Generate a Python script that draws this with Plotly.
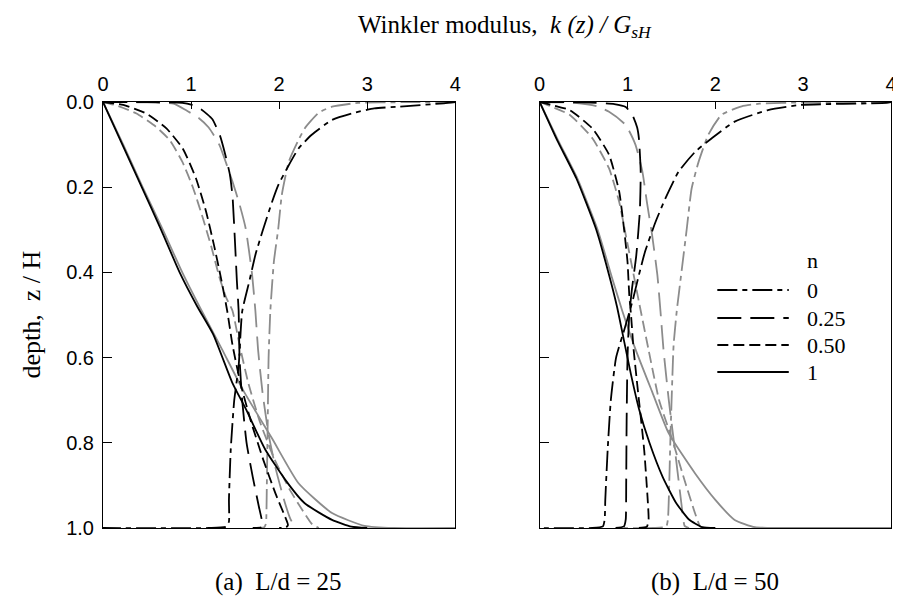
import plotly.graph_objects as go

# ---------------- data (k/GsH , z/H) ----------------
# Panel (a) L/d = 25
a_blk_n0_k = [4.0, 3.87, 3.35, 3.08, 2.82, 2.6, 2.37, 2.22, 2.11, 1.99, 1.92, 1.81, 1.73, 1.66, 1.58, 1.54, 1.49, 1.45, 1.43, 1.43, 1.40, 1.2, 0.0]
a_blk_n0_z = [0.0, 0.003, 0.011, 0.015, 0.027, 0.042, 0.077, 0.109, 0.148, 0.195, 0.234, 0.304, 0.359, 0.422, 0.492, 0.62, 0.70, 0.817, 0.934, 0.985, 0.997, 1.0, 1.0]
a_blk_n25_k = [0.0, 0.6, 0.9, 1.0, 1.12, 1.24, 1.33, 1.39, 1.44, 1.47, 1.5, 1.52, 1.54, 1.55, 1.58, 1.63, 1.7, 1.77, 1.81, 1.80, 1.70]
a_blk_n25_z = [0.0, 0.0005, 0.002, 0.006, 0.018, 0.04, 0.08, 0.125, 0.17, 0.22, 0.335, 0.42, 0.49, 0.6, 0.7, 0.8, 0.88, 0.95, 0.99, 0.998, 1.0]
a_blk_n50_k = [0.0, 0.23, 0.49, 0.72, 0.905, 1.055, 1.17, 1.26, 1.34, 1.41, 1.47, 1.56, 1.68, 1.82, 1.96, 2.06, 2.1, 2.08, 2.0]
a_blk_n50_z = [0.0, 0.007, 0.027, 0.062, 0.109, 0.179, 0.257, 0.336, 0.414, 0.49, 0.57, 0.66, 0.75, 0.84, 0.92, 0.97, 0.993, 0.998, 1.0]
a_blk_n1_k = [0.0, 0.22, 0.44, 0.66, 0.87, 1.07, 1.25, 1.47, 1.62, 1.84, 2.07, 2.29, 2.6, 2.82, 3.0]
a_blk_n1_z = [0.0, 0.1, 0.2, 0.3, 0.4, 0.48, 0.545, 0.66, 0.72, 0.815, 0.887, 0.942, 0.981, 0.997, 1.0]

a_gry_n0_k = [4.0, 3.4, 2.9, 2.6, 2.45, 2.37, 2.29, 2.22, 2.11, 2.03, 1.99, 1.94, 1.9, 1.88, 1.87, 1.86, 1.855, 1.85, 1.83, 1.75]
a_gry_n0_z = [0.0, 0.0005, 0.002, 0.011, 0.025, 0.042, 0.062, 0.089, 0.14, 0.218, 0.297, 0.375, 0.49, 0.6, 0.75, 0.9, 0.97, 0.99, 0.998, 1.0]
a_gry_n25_k = [0.0, 0.5, 0.8, 0.94, 1.09, 1.2, 1.32, 1.47, 1.55, 1.62, 1.69, 1.73, 1.76, 1.81, 1.88, 1.96, 2.05, 2.12, 2.17, 2.2]
a_gry_n25_z = [0.0, 0.001, 0.004, 0.019, 0.038, 0.06, 0.1, 0.187, 0.24, 0.297, 0.4, 0.49, 0.58, 0.68, 0.78, 0.86, 0.93, 0.975, 0.995, 1.0]
a_gry_n50_k = [0.0, 0.15, 0.38, 0.6, 0.755, 0.9, 1.02, 1.13, 1.23, 1.32, 1.4, 1.47, 1.55, 1.65, 1.78, 1.95, 2.12, 2.27, 2.37, 2.45]
a_gry_n50_z = [0.0, 0.008, 0.027, 0.058, 0.089, 0.14, 0.2, 0.27, 0.34, 0.41, 0.46, 0.49, 0.57, 0.66, 0.75, 0.84, 0.91, 0.96, 0.99, 1.0]
a_gry_n1_k = [0.0, 0.23, 0.45, 0.68, 0.9, 1.12, 1.35, 1.6, 1.92, 2.22, 2.6, 2.97, 3.3, 4.0]
a_gry_n1_z = [0.0, 0.1, 0.2, 0.3, 0.4, 0.49, 0.58, 0.68, 0.79, 0.895, 0.965, 0.995, 1.0, 1.0]

# Panel (b) L/d = 50
b_blk_n0_k = [4.0, 3.95, 2.97, 2.6, 2.22, 1.96, 1.77, 1.58, 1.43, 1.32, 1.2, 1.13, 1.055, 0.97, 0.87, 0.81, 0.774, 0.747, 0.74, 0.72, 0.6, 0.0]
b_blk_n0_z = [0.0, 0.002, 0.007, 0.019, 0.046, 0.085, 0.117, 0.164, 0.227, 0.281, 0.351, 0.406, 0.469, 0.53, 0.6, 0.7, 0.817, 0.934, 0.98, 0.996, 1.0, 1.0]
b_blk_n25_k = [0.0, 0.5, 0.85, 0.98, 1.055, 1.11, 1.13, 1.15, 1.14, 1.1, 1.05, 1.02, 1.0, 0.99, 0.985, 0.98, 0.96, 0.85]
b_blk_n25_z = [0.0, 0.001, 0.005, 0.012, 0.03, 0.06, 0.086, 0.164, 0.257, 0.36, 0.44, 0.5, 0.6, 0.75, 0.9, 0.98, 0.996, 1.0]
b_blk_n50_k = [0.0, 0.1, 0.34, 0.6, 0.79, 0.905, 0.96, 1.0, 1.02, 1.04, 1.07, 1.13, 1.19, 1.23, 1.24, 1.22, 1.1]
b_blk_n50_z = [0.0, 0.005, 0.019, 0.062, 0.124, 0.21, 0.297, 0.375, 0.453, 0.5, 0.582, 0.70, 0.817, 0.934, 0.98, 0.997, 1.0]
b_blk_n1_k = [0.0, 0.2, 0.417, 0.64, 0.79, 0.88, 0.96, 1.04, 1.13, 1.25, 1.4, 1.55, 1.7, 1.85, 2.0]
b_blk_n1_z = [0.0, 0.09, 0.179, 0.297, 0.406, 0.48, 0.56, 0.64, 0.72, 0.8, 0.88, 0.94, 0.98, 0.998, 1.0]

b_gry_n0_k = [4.0, 3.0, 2.5, 2.3, 2.07, 1.92, 1.81, 1.73, 1.675, 1.62, 1.56, 1.525, 1.51, 1.49, 1.47, 1.46, 1.44, 1.3, 0.96]
b_gry_n0_z = [0.0, 0.001, 0.004, 0.01, 0.03, 0.077, 0.14, 0.203, 0.297, 0.39, 0.492, 0.57, 0.65, 0.778, 0.934, 0.98, 0.997, 1.0, 1.0]
b_gry_n25_k = [0.0, 0.4, 0.65, 0.79, 0.98, 1.09, 1.17, 1.22, 1.28, 1.34, 1.375, 1.41, 1.47, 1.54, 1.6, 1.63, 1.65, 1.7]
b_gry_n25_z = [0.0, 0.002, 0.01, 0.023, 0.054, 0.10, 0.164, 0.234, 0.312, 0.406, 0.49, 0.582, 0.70, 0.817, 0.92, 0.97, 0.995, 1.0]
b_gry_n50_k = [0.0, 0.1, 0.34, 0.6, 0.79, 0.905, 0.98, 1.055, 1.13, 1.24, 1.36, 1.51, 1.66, 1.77, 1.83, 1.9]
b_gry_n50_z = [0.0, 0.008, 0.03, 0.085, 0.156, 0.234, 0.312, 0.39, 0.469, 0.582, 0.70, 0.793, 0.895, 0.966, 0.997, 1.0]
b_gry_n1_k = [0.0, 0.21, 0.43, 0.66, 0.82, 0.94, 1.09, 1.28, 1.47, 1.77, 2.0, 2.22, 2.45, 2.7, 4.0]
b_gry_n1_z = [0.0, 0.09, 0.18, 0.3, 0.41, 0.49, 0.58, 0.68, 0.778, 0.872, 0.934, 0.981, 0.998, 1.0, 1.0]

x_ticks = [0, 1, 2, 3, 4]
y_ticks = [0.0, 0.2, 0.4, 0.6, 0.8, 1.0]
y_ticklabels = ["0.0", "0.2", "0.4", "0.6", "0.8", "1.0"]
legend_labels = ["0", "0.25", "0.50", "1"]
captions = ["(a)  L/d = 25", "(b)  L/d = 50"]

# ---------------- styling ----------------
BLACK = "#000000"
GRAY = "#8c8c8c"
DASH = {
    "n0": "20px,5px,5px,5px",
    "n25": "24px,9px",
    "n50": "11px,5px",
    "n1": "solid",
}
LW = 1.8

fig = go.Figure()

def add(k, z, color, dash, xa, ya):
    fig.add_trace(go.Scatter(
        x=k, y=z, mode="lines", xaxis=xa, yaxis=ya,
        line=dict(color=color, dash=dash, width=LW, shape="spline", smoothing=0.5),
        showlegend=False, hoverinfo="skip"))

series_a = [
    (a_gry_n0_k, a_gry_n0_z, GRAY, "n0"), (a_gry_n25_k, a_gry_n25_z, GRAY, "n25"),
    (a_gry_n50_k, a_gry_n50_z, GRAY, "n50"), (a_gry_n1_k, a_gry_n1_z, GRAY, "n1"),
    (a_blk_n0_k, a_blk_n0_z, BLACK, "n0"), (a_blk_n25_k, a_blk_n25_z, BLACK, "n25"),
    (a_blk_n50_k, a_blk_n50_z, BLACK, "n50"), (a_blk_n1_k, a_blk_n1_z, BLACK, "n1"),
]
series_b = [
    (b_gry_n0_k, b_gry_n0_z, GRAY, "n0"), (b_gry_n25_k, b_gry_n25_z, GRAY, "n25"),
    (b_gry_n50_k, b_gry_n50_z, GRAY, "n50"), (b_gry_n1_k, b_gry_n1_z, GRAY, "n1"),
    (b_blk_n0_k, b_blk_n0_z, BLACK, "n0"), (b_blk_n25_k, b_blk_n25_z, BLACK, "n25"),
    (b_blk_n50_k, b_blk_n50_z, BLACK, "n50"), (b_blk_n1_k, b_blk_n1_z, BLACK, "n1"),
]
for k, z, c, d in series_a:
    add(k, z, c, DASH[d], "x", "y")
for k, z, c, d in series_b:
    add(k, z, c, DASH[d], "x2", "y2")

# page offset (browser body margin)
OFF = 8
W, H = 901 - OFF, 610 - OFF
ML, MT = 103 - OFF, 102 - OFF
PLOT_R, PLOT_B = 897 - OFF, 528 - OFF
MR, MB = W - PLOT_R, H - PLOT_B
PW, PH = W - ML - MR, H - MT - MB

def px(x):
    return (x - OFF - ML) / PW

def py(y):
    return (H - MB - (y - OFF)) / PH

tickfont = dict(family="Liberation Sans, Arial, sans-serif", size=20, color="black")
serif = "Liberation Serif, Times New Roman, serif"

xcommon = dict(range=[0, 4], tickvals=x_ticks, ticktext=[str(t) for t in x_ticks],
               side="top", ticks="inside", ticklen=7, tickcolor="black",
               showline=True, linecolor="black", linewidth=1, mirror=True,
               showgrid=False, zeroline=False, tickfont=tickfont, ticklabelstandoff=2)
ycommon = dict(range=[1, 0], tickvals=y_ticks, ticks="inside", ticklen=9, tickcolor="black",
               showline=True, linecolor="black", linewidth=1, mirror=True,
               showgrid=False, zeroline=False, tickfont=tickfont, ticklabelstandoff=4)

fig.update_layout(
    width=W, height=H,
    margin=dict(l=ML, r=MR, t=MT, b=MB),
    paper_bgcolor="white", plot_bgcolor="white",
    xaxis=dict(domain=[0, px(458)], anchor="y", **xcommon),
    xaxis2=dict(domain=[px(543), 1.0], anchor="y2", **xcommon),
    yaxis=dict(domain=[0, 1], anchor="x", ticktext=y_ticklabels, **ycommon),
    yaxis2=dict(domain=[0, 1], anchor="x2", showticklabels=False, **ycommon),
    showlegend=False,
)

ann = []
ann.append(dict(x=px(508), y=py(9), xref="paper", yref="paper", showarrow=False,
                xanchor="center", yanchor="top",
                text="Winkler modulus,  <i>k (z) / G<sub>sH</sub></i>",
                font=dict(family=serif, size=25, color="black")))
ann.append(dict(x=px(30), y=py(315), xref="paper", yref="paper", showarrow=False,
                xanchor="center", yanchor="middle",
                text="depth,  z / H", textangle=-90,
                font=dict(family=serif, size=26, color="black")))
ann.append(dict(x=px(280), y=py(582), xref="paper", yref="paper", showarrow=False,
                xanchor="center", yanchor="middle",
                text=captions[0], font=dict(family=serif, size=25, color="black")))
ann.append(dict(x=px(720), y=py(582), xref="paper", yref="paper", showarrow=False,
                xanchor="center", yanchor="middle",
                text=captions[1], font=dict(family=serif, size=25, color="black")))

# legend (drawn manually)
leg_rows_y = [290, 318, 345, 372]
leg_dash = ["n0", "n25", "n50", "n1"]
ann.append(dict(x=px(810), y=py(260), xref="paper", yref="paper", showarrow=False,
                xanchor="left", yanchor="middle",
                text="n", font=dict(family=serif, size=22, color="black")))
shapes = []
for lab, yy, d in zip(legend_labels, leg_rows_y, leg_dash):
    shapes.append(dict(type="line", xref="paper", yref="paper",
                       x0=px(722), x1=px(794), y0=py(yy), y1=py(yy),
                       line=dict(color="black", width=LW, dash=DASH[d])))
    ann.append(dict(x=px(810), y=py(yy), xref="paper", yref="paper", showarrow=False,
                    xanchor="left", yanchor="middle",
                    text=lab, font=dict(family=serif, size=22, color="black")))

fig.update_layout(annotations=ann, shapes=shapes)

fig.write_html("out.html")
